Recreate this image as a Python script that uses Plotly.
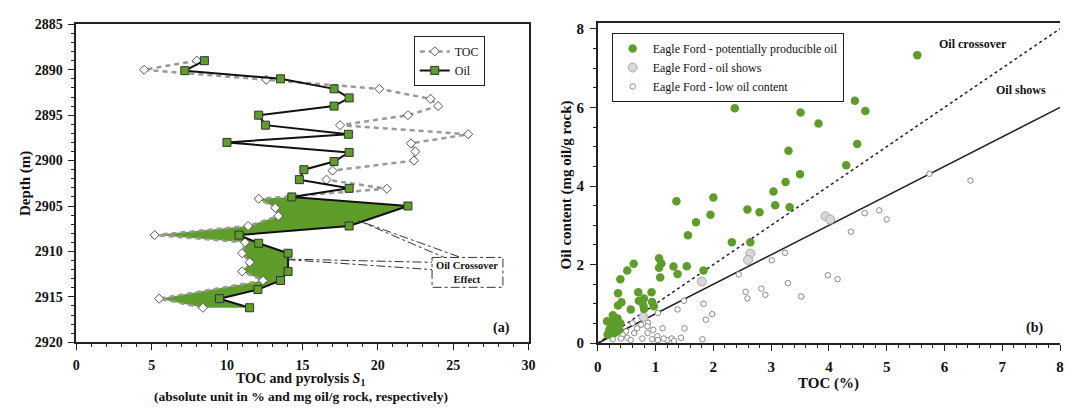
import plotly.graph_objects as go

# ---------------- Panel (a): depth profile ----------------
oil_depth = [2889.0, 2890.1, 2891.0, 2892.1, 2893.1, 2894.0, 2895.0, 2896.1, 2897.1, 2898.0,
             2899.1, 2900.1, 2901.0, 2902.1, 2903.05, 2904.0, 2905.0, 2907.2, 2908.2, 2909.1,
             2910.2, 2912.2, 2913.2, 2914.2, 2915.2, 2916.2]
oil_s1 = [8.5, 7.2, 13.55, 17.1, 18.1, 17.1, 12.1, 12.55, 18.05, 10.0,
          18.1, 17.1, 15.1, 14.8, 18.1, 14.3, 22.0, 18.1, 10.8, 12.1,
          14.05, 14.05, 13.55, 12.05, 9.5, 11.5]

toc_depth = [2889.0, 2890.0, 2891.1, 2892.1, 2893.2, 2894.0, 2895.0, 2896.1, 2897.1, 2898.1,
             2899.0, 2900.0, 2901.1, 2902.1, 2903.1, 2904.2, 2905.2, 2906.1, 2907.2, 2908.2,
             2909.0, 2910.2, 2911.2, 2912.2, 2913.2, 2915.2, 2916.2]
toc_a = [8.0, 4.5, 12.6, 20.1, 23.5, 24.0, 22.0, 17.5, 26.0, 22.2,
         22.5, 22.4, 17.0, 16.6, 20.6, 12.1, 13.2, 13.4, 11.4, 5.2,
         11.2, 11.0, 11.5, 11.0, 12.4, 5.5, 8.4]

crossover_top = 2904.0  # oil exceeds TOC below this depth

# ---------------- Panel (b): Eagle Ford samples ----------------
prod_toc = [5.53, 4.45, 2.37, 3.51, 4.63, 3.82, 4.49, 4.30, 3.30, 3.50,
            3.25, 3.04, 3.07, 3.32, 2.80, 2.59, 2.00, 1.95, 1.36, 1.70, 1.56, 2.32, 2.64,
            1.06, 1.10, 1.06, 1.31, 1.54, 1.38, 1.83, 1.08,
            0.62, 0.51, 0.39, 0.35, 0.70, 0.93, 0.41, 0.35, 0.71, 0.80, 0.79, 0.80, 0.94, 0.97, 0.57,
            0.16, 0.26, 0.34, 0.23, 0.31, 0.39, 0.20, 0.29, 0.17, 0.37, 0.28, 0.22, 0.33]
prod_oil = [7.33, 6.17, 5.98, 5.87, 5.91, 5.59, 5.07, 4.53, 4.90, 4.30,
            4.10, 3.86, 3.51, 3.46, 3.33, 3.40, 3.71, 3.27, 3.61, 3.08, 2.75, 2.57, 2.57,
            2.16, 2.03, 1.92, 1.95, 1.96, 1.76, 1.85, 1.67,
            2.02, 1.85, 1.63, 1.27, 1.30, 1.30, 1.04, 0.96, 1.08, 1.14, 0.96, 0.87, 1.05, 0.94, 0.86,
            0.56, 0.71, 0.63, 0.51, 0.43, 0.51, 0.34, 0.26, 0.22, 0.34, 0.60, 0.40, 0.30]

shows_toc = [3.94, 4.02, 2.64, 2.60, 1.80, 0.79]
shows_oil = [3.23, 3.15, 2.28, 2.12, 1.57, 0.67]

low_toc = [5.74, 6.45, 4.62, 4.87, 5.00, 4.38, 3.98, 4.15,
           3.24, 3.01, 2.44, 3.29, 2.56, 2.83, 2.59, 2.90, 3.52,
           1.83, 1.98, 1.87, 1.49, 1.38, 1.04, 1.50, 1.12, 0.96, 0.87, 0.86, 0.75, 0.68,
           0.60, 0.63, 0.49, 0.43, 0.51, 0.57, 0.26, 0.40, 0.77, 0.94, 1.03, 1.04, 1.20,
           1.28, 1.32, 1.44, 1.81, 1.14, 0.36, 0.86]
low_oil = [4.31, 4.14, 3.31, 3.38, 3.15, 2.84, 1.73, 1.63,
           2.30, 2.11, 1.75, 1.53, 1.31, 1.39, 1.14, 1.23, 1.19,
           1.00, 0.74, 0.60, 1.08, 0.86, 0.77, 0.38, 0.38, 0.34, 0.52, 0.26, 0.47, 0.38,
           0.51, 0.26, 0.30, 0.22, 0.14, 0.08, 0.10, 0.12, 0.12, 0.10, 0.18, 0.08, 0.08,
           0.12, 0.06, 0.14, 0.10, 0.12, 0.30, 0.43]

toc_line_x = [0, 8]
crossover_ratio = 1.0   # S1 / TOC = 1
shows_ratio = 0.75      # S1 / TOC = 0.75

GREEN = "#5f9d2b"
SERIF = "Liberation Serif"

fig = go.Figure()

# crossover fill: TOC curve down, oil curve back up
fill_x = [t for t, d in zip(toc_a, toc_depth) if d >= crossover_top] + \
         [o for o, d in zip(oil_s1, oil_depth) if d >= crossover_top][::-1]
fill_y = [d for d in toc_depth if d >= crossover_top] + \
         [d for d in oil_depth if d >= crossover_top][::-1]
fig.add_trace(go.Scatter(x=fill_x, y=fill_y, fill="toself", fillcolor=GREEN, mode="none",
                         showlegend=False, hoverinfo="skip", xaxis="x", yaxis="y"))

fig.add_trace(go.Scatter(
    x=toc_a, y=toc_depth, mode="lines+markers", name="TOC",
    line=dict(color="#999999", width=2.5, dash="5px,4px"),
    marker=dict(symbol="diamond", size=7, color="white", line=dict(color="#555555", width=1)),
    xaxis="x", yaxis="y", legend="legend"))

fig.add_trace(go.Scatter(
    x=oil_s1, y=oil_depth, mode="lines+markers", name="Oil",
    line=dict(color="#111111", width=2),
    marker=dict(symbol="square", size=8, color=GREEN, line=dict(color="#333333", width=1)),
    xaxis="x", yaxis="y", legend="legend"))

# ---- panel (b) reference lines
fig.add_trace(go.Scatter(x=toc_line_x, y=[v * crossover_ratio for v in toc_line_x], mode="lines",
                         line=dict(color="#222222", width=1.5, dash="dot"),
                         showlegend=False, hoverinfo="skip", xaxis="x2", yaxis="y2"))
fig.add_trace(go.Scatter(x=toc_line_x, y=[v * shows_ratio for v in toc_line_x], mode="lines",
                         line=dict(color="#222222", width=1.5),
                         showlegend=False, hoverinfo="skip", xaxis="x2", yaxis="y2"))

fig.add_trace(go.Scatter(
    x=low_toc, y=low_oil, mode="markers", name="Eagle Ford - low oil content",
    marker=dict(symbol="circle", size=5.5, color="white", line=dict(color="#8a8a8a", width=1)),
    xaxis="x2", yaxis="y2", legend="legend2"))
fig.add_trace(go.Scatter(
    x=shows_toc, y=shows_oil, mode="markers", name="Eagle Ford - oil shows",
    marker=dict(symbol="circle", size=9, color="#d8d8d8", line=dict(color="#a8a8a8", width=1)),
    xaxis="x2", yaxis="y2", legend="legend2"))
fig.add_trace(go.Scatter(
    x=prod_toc, y=prod_oil, mode="markers", name="Eagle Ford - potentially producible oil",
    marker=dict(symbol="circle", size=8.5, color=GREEN, line=dict(color=GREEN, width=0)),
    xaxis="x2", yaxis="y2", legend="legend2"))

W, H = 1067, 410
def px(x):
    return x / W
def py(y):
    return 1 - y / H

axis_common = dict(showgrid=False, zeroline=False, showline=True, linecolor="#222222",
                   linewidth=1.5, ticks="outside", tickcolor="#222222", ticklen=6,
                   ticklabelstandoff=3,
                   tickfont=dict(family=SERIF, size=14, color="#111111", weight="bold"))
big_ticks = dict(family=SERIF, size=15, color="#111111", weight="bold")

fig.update_layout(
    width=W, height=H, margin=dict(l=0, r=0, t=0, b=0),
    paper_bgcolor="white", plot_bgcolor="white",
    xaxis=dict(domain=[px(73), px(530)], range=[0, 30], dtick=5, mirror=True,
               minor=dict(dtick=1, ticks="outside", ticklen=3, tickcolor="#222222"),
               anchor="y", **axis_common),
    yaxis=dict(domain=[py(348), py(18)], range=[2920, 2885], dtick=5, mirror=True,
               minor=dict(dtick=1, ticks="outside", ticklen=3, tickcolor="#222222"),
               anchor="x", **axis_common),
    xaxis2=dict(domain=[px(600), 1.0], range=[0, 8], dtick=1, mirror=True,
                minor=dict(dtick=0.2, ticks="outside", ticklen=3, tickcolor="#222222"),
                anchor="y2", **{**axis_common, "tickfont": big_ticks}),
    yaxis2=dict(domain=[py(349), py(16.5)], range=[0, 8.15], dtick=2, mirror=False,
                minor=dict(dtick=0.5, ticks="outside", ticklen=3, tickcolor="#222222"),
                anchor="x2", **{**axis_common, "tickfont": big_ticks}),
    legend=dict(x=px(414), y=py(30), xanchor="left", yanchor="top",
                bordercolor="#222222", borderwidth=1, bgcolor="white",
                font=dict(family=SERIF, size=12, color="#111111"), tracegroupgap=3),
    legend2=dict(x=px(614), y=py(27), xanchor="left", yanchor="top",
                 bordercolor="#222222", borderwidth=1, bgcolor="white",
                 traceorder="reversed",
                 font=dict(family=SERIF, size=12, color="#111111"), tracegroupgap=0),
)

ann_font = dict(family=SERIF, color="#111111")

def label(text, x, y, size, xref="paper", yref="paper", angle=0):
    if xref == "paper":
        x = px(x)
    if yref == "paper":
        y = py(y)
    return dict(text=text, x=x, y=y, xref=xref, yref=yref, textangle=angle,
                xanchor="center", yanchor="middle", showarrow=False,
                font=dict(size=size, **ann_font))

annotations = [
    label("<b>Depth (m)</b>", 22, 183, 15, angle=-90),
    label("<b>TOC and pyrolysis <i>S</i><sub>1</sub></b>", 300, 387, 14),
    label("<b>(absolute unit in % and mg oil/g rock, respectively)</b>", 300, 404, 13.5),
    label("<b>Oil content (mg oil/g rock)</b>", 568, 185, 15, angle=-90),
    label("<b>TOC (%)</b>", 833, 391, 15),
    label("<b>(a)</b>", 28.2, 2918.4, 14, xref="x", yref="y"),
    label("<b>Oil Crossover<br>Effect</b>", 25.95, 2912.3, 10.5, xref="x", yref="y"),
    label("<b>(b)</b>", 7.55, 0.39, 14, xref="x2", yref="y2"),
    label("<b>Oil crossover</b>", 6.5, 7.62, 12, xref="x2", yref="y2"),
    label("<b>Oil shows</b>", 7.33, 6.45, 12, xref="x2", yref="y2"),
]
fig.update_layout(annotations=annotations)

callout = dict(color="#333333", width=1, dash="dashdot")
fig.update_layout(shapes=[
    dict(type="rect", xref="x", yref="y", x0=23.6, x1=28.3, y0=2910.66, y1=2913.95, line=callout),
    dict(type="line", xref="x", yref="y", x0=18.7, y0=2906.6, x1=24.4, y1=2910.66, line=callout),
    dict(type="line", xref="x", yref="y", x0=19.2, y0=2906.9, x1=25.5, y1=2910.66, line=callout),
    dict(type="line", xref="x", yref="y", x0=13.95, y0=2910.84, x1=23.6, y1=2911.2, line=callout),
    dict(type="line", xref="x", yref="y", x0=13.95, y0=2910.9, x1=23.6, y1=2912.0, line=callout),
])

fig.write_html("out.html")
